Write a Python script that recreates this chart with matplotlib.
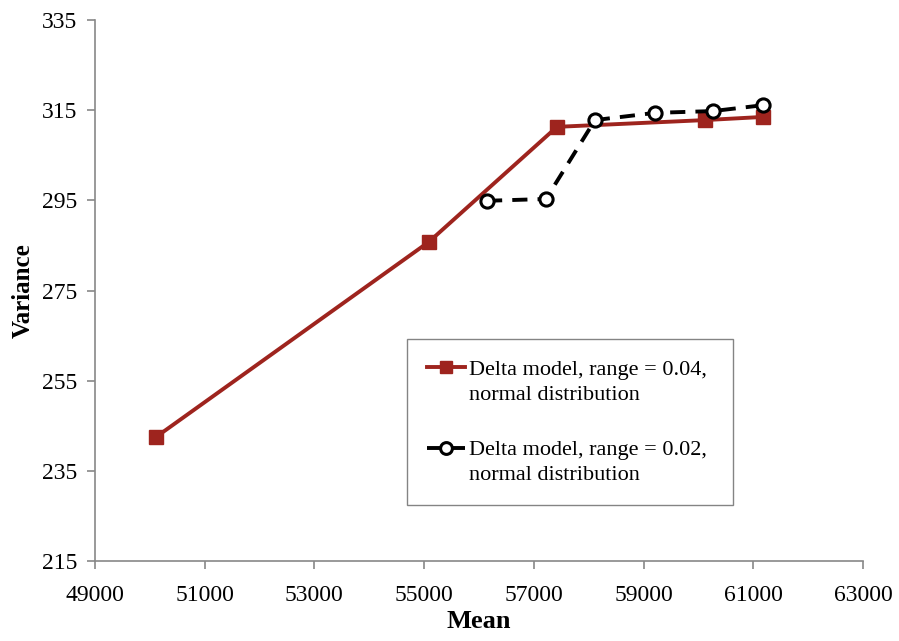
import matplotlib.pyplot as plt
from matplotlib.lines import Line2D

# data
mean_04 = [50112, 55088, 57421, 60119, 61176]
var_04 = [242.5, 285.8, 311.3, 312.8, 313.5]
mean_02 = [56146, 57221, 58114, 59208, 60265, 61176]
var_02 = [294.9, 295.3, 312.8, 314.4, 314.8, 316.1]
label_04 = ["Delta model, range = 0.04,", "normal distribution"]
label_02 = ["Delta model, range = 0.02,", "normal distribution"]
xticks = list(range(49000, 63001, 2000))
yticks = list(range(215, 336, 20))

plt.rcParams['font.family'] = ['Liberation Serif', 'DejaVu Serif']

fig = plt.figure(figsize=(8.99, 6.41), dpi=100)
ax = fig.add_axes([95/899, 80/641, 768/899, 541/641])

red = '#9E241E'
h1, = ax.plot(mean_04, var_04, color=red, lw=2.8, marker='s', ms=10.5,
              mfc=red, mec=red, zorder=2)
h2, = ax.plot(mean_02, var_02, color='black', lw=2.8, dashes=(3.9, 2.6), marker='o',
              ms=9.5, mfc='white', mec='black', mew=2.2, zorder=3)

ax.set_xlim(49000, 63000)
ax.set_ylim(215, 335)
ax.set_xticks(xticks)
ax.set_yticks(yticks)
ax.tick_params(labelsize=17, colors='#888888', labelcolor='black', length=6, width=1.2)
ax.tick_params(axis='x', pad=11)
ax.tick_params(axis='y', pad=7)
for s in ['top', 'right']:
    ax.spines[s].set_visible(False)
for s in ['left', 'bottom']:
    ax.spines[s].set_color('#888888')
    ax.spines[s].set_linewidth(1.2)

ax.set_xlabel('Mean', fontsize=19, fontweight='bold', labelpad=3)
ax.set_ylabel('Variance', fontsize=18, fontweight='bold', labelpad=5)

# legend rows: first line carries the handle, second line and gap are blank
blank = Line2D([], [], alpha=0)
handles = [h1, blank, blank, h2, blank]
labels = [label_04[0], label_04[1], " ", label_02[0], label_02[1]]
leg = fig.legend(handles, labels, loc='upper left',
                 bbox_to_anchor=(407/899, 1-340/641, 326/899, 0.001),
                 mode='expand', fontsize=16, frameon=True, fancybox=False,
                 edgecolor='#666666', handlelength=1.7, handletextpad=0.2,
                 labelspacing=0.2, borderpad=0.9, borderaxespad=0)
leg.get_frame().set_linewidth(1.0)
leg.get_texts()[2].set_fontsize(21.5)
for h in leg.legend_handles:
    h.set_markersize(8.5)

fig.savefig('out.png', dpi=100)
